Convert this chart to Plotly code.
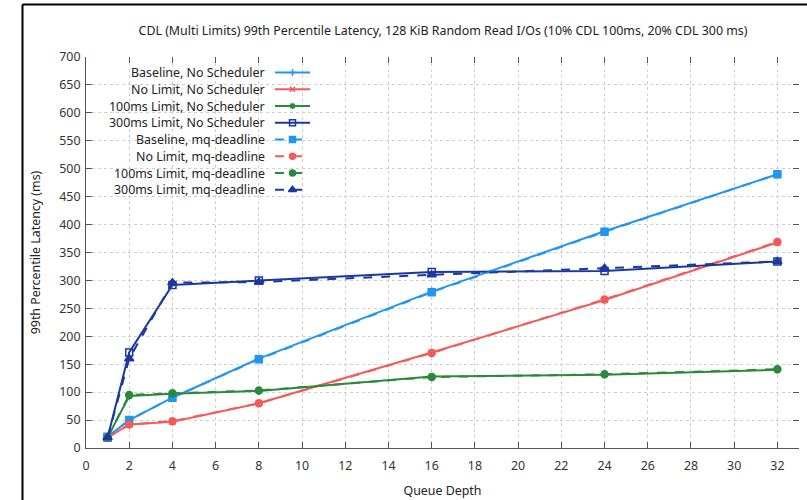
import plotly.graph_objects as go

# ---- data ----
queue_depth = [1, 2, 4, 8, 16, 24, 32]
baseline_none = [20, 50, 90, 160, 280, 388, 490]
nolimit_none = [19, 42, 47, 80, 171, 265, 368]
lim100_none = [19, 93, 97, 102, 128, 131, 140]
lim300_none = [19, 171, 292, 300, 315, 317, 334]
baseline_mq = [20, 50, 90, 159, 279, 387, 490]
nolimit_mq = [19, 42, 48, 80, 170, 266, 369]
lim100_mq = [19, 95, 98, 103, 127, 132, 141]
lim300_mq = [19, 160, 296, 297, 310, 322, 334]

series_names = [
    "Baseline, No Scheduler", "No Limit, No Scheduler", "100ms Limit, No Scheduler",
    "300ms Limit, No Scheduler", "Baseline, mq-deadline", "No Limit, mq-deadline",
    "100ms Limit, mq-deadline", "300ms Limit, mq-deadline",
]
series_values = [baseline_none, nolimit_none, lim100_none, lim300_none,
                 baseline_mq, nolimit_mq, lim100_mq, lim300_mq]
x_ticks = list(range(0, 34, 2))
y_ticks = list(range(0, 701, 50))

# ---- styles ----
LBLUE, RED, GREEN, DBLUE = "#2196f0", "#f55a5a", "#2a8a3c", "#1a38a0"
styles = [
    dict(color=LBLUE, dash="solid", symbol="cross-thin", size=6),
    dict(color=RED, dash="solid", symbol="x-thin", size=6),
    dict(color=GREEN, dash="solid", symbol="asterisk", size=6),
    dict(color=DBLUE, dash="solid", symbol="square-open", size=7),
    dict(color=LBLUE, dash="dash", symbol="square", size=7),
    dict(color=RED, dash="dash", symbol="circle", size=7),
    dict(color=GREEN, dash="dash", symbol="circle", size=7),
    dict(color=DBLUE, dash="dash", symbol="triangle-up", size=8),
]

FONT = "Noto Sans"
FS = 12.4
W, H = 807, 500
# target plot area in window pixels: x 86..799, y 57..448 (page margin removed)
L, T = 86, 57
R = W - 799
B = H - 448
PW, PH = W - L - R, H - T - B


def px_x(px):
    return (px - L) / PW


def px_y(py):
    return (H - B - py) / PH


fig = go.Figure()
for name, vals, st in zip(series_names, series_values, styles):
    fig.add_trace(go.Scatter(
        x=queue_depth, y=vals, mode="lines+markers", name=name, showlegend=False,
        line=dict(color=st["color"], width=2, dash=st["dash"]),
        marker=dict(symbol=st["symbol"], size=st["size"], color=st["color"],
                    line=dict(color=st["color"], width=1.5)),
    ))

# mirror-tick dummy traces
fig.add_trace(go.Scatter(x=[None], y=[None], xaxis="x3", yaxis="y", showlegend=False, hoverinfo="skip"))
fig.add_trace(go.Scatter(x=[None], y=[None], xaxis="x", yaxis="y3", showlegend=False, hoverinfo="skip"))

# ---- custom legend (window-pixel overlay axes) ----
leg_y0, leg_dy = 72.5, 16.75
annotations = []
for i, (name, st) in enumerate(zip(series_names, styles)):
    yy = leg_y0 + i * leg_dy
    fig.add_trace(go.Scatter(
        x=[275, 310], y=[yy, yy], mode="lines", xaxis="x2", yaxis="y2", showlegend=False,
        hoverinfo="skip", line=dict(color=st["color"], width=2, dash=st["dash"])))
    fig.add_trace(go.Scatter(
        x=[292.5], y=[yy], mode="markers", xaxis="x2", yaxis="y2", showlegend=False,
        hoverinfo="skip",
        marker=dict(symbol=st["symbol"], size=st["size"] - 1, color=st["color"],
                    line=dict(color=st["color"], width=1.5))))
    annotations.append(dict(x=267, y=yy, xref="x2", yref="y2", text=name, showarrow=False,
                            xanchor="right", yanchor="middle",
                            font=dict(family=FONT, size=FS, color="#222")))

axis_common = dict(ticks="inside", ticklen=6, tickcolor="#555", tickwidth=1,
                   showline=True, linecolor="#555", linewidth=1, automargin=False,
                   showgrid=True, gridcolor="#cfcfcf", griddash="dot", gridwidth=1,
                   zeroline=False, tickfont=dict(family=FONT, size=FS, color="#333"))

fig.update_layout(
    width=W, height=H, margin=dict(l=L, r=R, t=T, b=B, autoexpand=False),
    paper_bgcolor="white", plot_bgcolor="white",
    font=dict(family=FONT, size=FS, color="#222"),
    title=dict(text="CDL (Multi Limits) 99th Percentile Latency, 128 KiB Random Read I/Os (10% CDL 100ms, 20% CDL 300 ms)",
               x=443 / W, xanchor="center", y=1 - 31 / H, yanchor="middle",
               font=dict(family=FONT, size=FS, color="#222")),
    xaxis=dict(range=[0, 33], tickvals=x_ticks, ticklabelstandoff=6,
               title=dict(text="Queue Depth", standoff=13,
                          font=dict(family=FONT, size=FS, color="#222")), **axis_common),
    yaxis=dict(range=[0, 700], tickvals=y_ticks, ticklabelstandoff=2,
               title=dict(text="99th Percentile Latency (ms)", standoff=15,
                          font=dict(family=FONT, size=FS, color="#222")), **axis_common),
    xaxis3=dict(overlaying="x", side="top", anchor="y", range=[0, 33], tickvals=x_ticks,
                ticks="inside", ticklen=6, tickcolor="#555", showticklabels=False,
                showline=False, showgrid=False, zeroline=False, automargin=False),
    yaxis3=dict(overlaying="y", side="right", anchor="x", range=[0, 700], tickvals=y_ticks,
                ticks="inside", ticklen=6, tickcolor="#555", showticklabels=False,
                showline=False, showgrid=False, zeroline=False, automargin=False),
    xaxis2=dict(overlaying="x", anchor="y2", range=[86, 799], visible=False),
    yaxis2=dict(overlaying="y", anchor="x2", range=[448, 57], visible=False),
    annotations=annotations,
    shapes=[
        # opaque legend box
        dict(type="rect", xref="paper", yref="paper", x0=0.001, x1=px_x(314),
             y0=px_y(197), y1=px_y(58.5),
             fillcolor="white", line=dict(width=0), layer="between"),
        # outer black frame (left and top)
        dict(type="line", xref="paper", yref="paper", x0=px_x(22.5), x1=px_x(22.5),
             y0=px_y(510), y1=px_y(4.5), line=dict(color="black", width=2)),
        dict(type="line", xref="paper", yref="paper", x0=px_x(22.5), x1=px_x(815),
             y0=px_y(4.5), y1=px_y(4.5), line=dict(color="black", width=2)),
    ],
)

fig.write_html(
    "out.html",
    config={"displayModeBar": False},
    post_script="document.body.style.margin='0';document.body.style.padding='0';",
)
